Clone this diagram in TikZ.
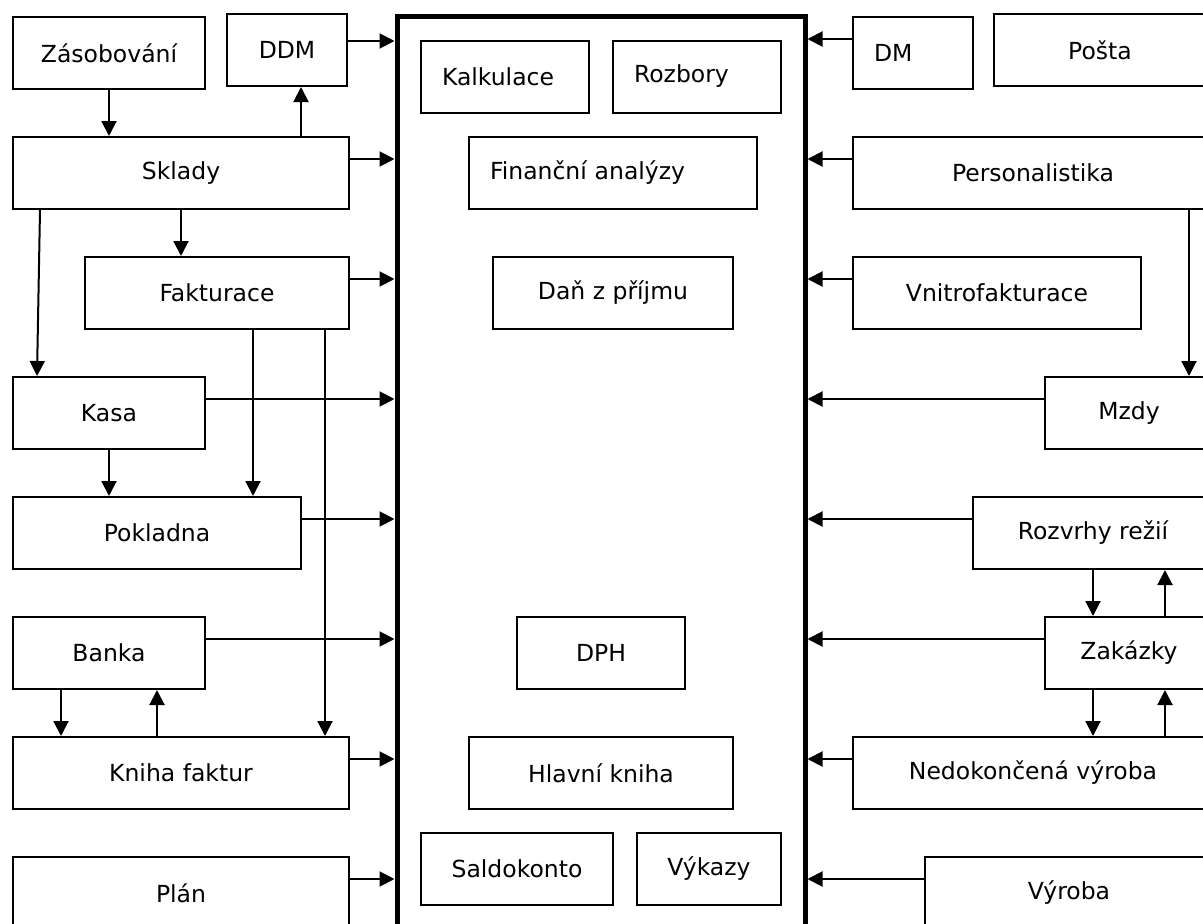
\documentclass[tikz,border=0pt]{standalone}
\usepackage{fontspec}
\setmainfont{DejaVu Sans}
\usetikzlibrary{arrows.meta}

\begin{document}
\begin{tikzpicture}[
    x=1pt, y=-1pt,
    font=\fontsize{23.5}{28}\selectfont,
    box/.style={
        rectangle, draw=black, line width=2pt,
        minimum height=72pt, inner sep=0pt,
        text centered
    },
    lbox/.style={box, align=left, inner xsep=21pt},
    arrow/.style={-{Triangle[length=15pt, width=15pt]}, line width=2pt},
]
\useasboundingbox (0,0) rectangle (1203,924);

% Jadro systemu
\node[draw, line width=5pt, minimum width=408pt, minimum height=940pt,
    inner sep=0pt] (erp) at (601,486) {};

% Levy sloupec
\node[box, minimum width=192pt] (zasob)  at (109,53)  {Zásobování};
\node[box, minimum width=120pt] (ddm)    at (287,50)  {DDM};
\node[box, minimum width=336pt] (sklady) at (181,173) {Sklady};
\node[box, minimum width=264pt] (fakt)   at (217,293) {Fakturace};
\node[box, minimum width=192pt] (kasa)   at (109,413) {Kasa};
\node[box, minimum width=288pt] (pokl)   at (157,533) {Pokladna};
\node[box, minimum width=192pt] (banka)  at (109,653) {Banka};
\node[box, minimum width=336pt] (kniha)  at (181,773) {Kniha faktur};
\node[box, minimum width=336pt] (plan)   at (181,893) {Plán};

% Stredni sloupec
\node[lbox, text width=126pt] (kalk)   at (505,76.5) {Kalkulace};
\node[lbox, text width=126pt] (rozb)   at (697,76.5) {Rozbory};
\node[lbox, text width=246pt] (fin)    at (613,173)  {Finanční analýzy};
\node[box, minimum width=240pt] (dan)    at (613,293) {Daň z příjmu};
\node[box, minimum width=168pt] (dph)    at (601,653) {DPH};
\node[box, minimum width=264pt] (hlavni) at (601,773) {Hlavní kniha};
\node[box, minimum width=192pt] (saldo)  at (517,869) {Saldokonto};
\node[box, minimum width=144pt] (vykazy) at (709,869) {Výkazy};

% Pravy sloupec
\node[lbox, text width=78pt]  (dm)      at (913,53)   {DM};
\node[box, minimum width=212pt] (posta)   at (1100,50)  {Pošta};
\node[box, minimum width=360pt] (pers)    at (1033,173) {Personalistika};
\node[box, minimum width=288pt] (vnitro)  at (997,293)  {Vnitrofakturace};
\node[box, minimum width=168pt] (mzdy)    at (1129,413) {Mzdy};
\node[box, minimum width=240pt] (rozvrhy) at (1093,533) {Rozvrhy režií};
\node[box, minimum width=168pt] (zakazky) at (1129,653) {Zakázky};
\node[box, minimum width=360pt] (nedok)   at (1033,773) {Nedokončená výroba};
\node[box, minimum width=288pt] (vyroba)  at (1069,893) {Výroba};

%% Vstupy do jadra
\draw[arrow] ([yshift=-28pt]ddm.north east) -- ([yshift=-28pt]ddm.north east -| erp.west);
\foreach \n in {sklady,fakt,kasa,pokl,banka,kniha,plan}
    \draw[arrow] ([yshift=-23pt]\n.north east) -- ([yshift=-23pt]\n.north east -| erp.west);
\foreach \n in {dm,pers,vnitro,mzdy,rozvrhy,zakazky,nedok,vyroba}
    \draw[arrow] ([yshift=-23pt]\n.north west) -- ([yshift=-23pt]\n.north west -| erp.east);

%% Vazby vlevo
\draw[arrow] (zasob.south) -- (zasob.south |- sklady.north);
\draw[arrow] (301,0 |- sklady.north) -- (301,0 |- ddm.south);
\draw[arrow] (sklady.south) -- (sklady.south |- fakt.north);
\draw[arrow] (40,0 |- sklady.south) -- (37,0 |- kasa.north);
\draw[arrow] (kasa.south) -- (kasa.south |- pokl.north);
\draw[arrow] (253,0 |- fakt.south) -- (253,0 |- pokl.north);
\draw[arrow] (325,0 |- fakt.south) -- (325,0 |- kniha.north);
\draw[arrow] (61,0 |- banka.south) -- (61,0 |- kniha.north);
\draw[arrow] (157,0 |- kniha.north) -- (157,0 |- banka.south);

%% Vazby vpravo
\draw[arrow] (1189,0 |- pers.south) -- (1189,0 |- mzdy.north);
\draw[arrow] (1093,0 |- rozvrhy.south) -- (1093,0 |- zakazky.north);
\draw[arrow] (1165,0 |- zakazky.north) -- (1165,0 |- rozvrhy.south);
\draw[arrow] (1093,0 |- zakazky.south) -- (1093,0 |- nedok.north);
\draw[arrow] (1165,0 |- nedok.north) -- (1165,0 |- zakazky.south);

\end{tikzpicture}
\end{document}
